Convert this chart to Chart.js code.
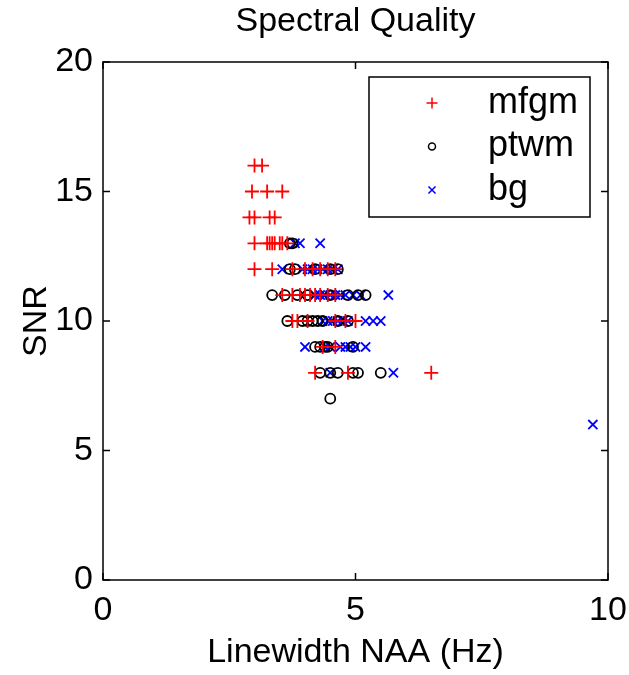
<!DOCTYPE html>
<html>
<head>
<meta charset="utf-8">
<script src="https://cdn.jsdelivr.net/npm/chart.js@4/dist/chart.umd.min.js"></script>
<style>
  html, body { margin: 0; padding: 0; background: #fff; }
  #wrap { width: 629px; height: 675px; }
</style>
</head>
<body>
<div id="wrap"><canvas id="snrChart" width="629" height="675"></canvas></div>
<script>
// tick values shown on the axes
const xTicks = [0, 5, 10];
const yTicks = [0, 5, 10, 15, 20];

// mfgm (+)
const mfgmX = [3.0, 3.15, 2.95, 3.25, 3.55, 2.9, 3.0, 3.3, 3.4,
  3.0, 3.25, 3.3, 3.35, 3.4, 3.5, 3.55, 3.65,
  3.0, 3.35, 3.75, 4.0, 4.15, 4.3, 4.45, 4.6,
  3.55, 3.75, 3.9, 4.0, 4.1, 4.2, 4.3, 4.45, 4.6,
  3.75, 3.85, 4.05, 4.6, 4.8, 5.0,
  4.35, 4.6,
  4.2, 4.85, 6.5];
const mfgmY = [16, 16, 15, 15, 15, 14, 14, 14, 14,
  13, 13, 13, 13, 13, 13, 13, 13,
  12, 12, 12, 12, 12, 12, 12, 12,
  11, 11, 11, 11, 11, 11, 11, 11, 11,
  10, 10, 10, 10, 10, 10,
  9, 9,
  8, 8, 8];

// ptwm (o)
const ptwmX = [3.7, 3.75,
  3.7, 3.8, 4.2, 4.5, 4.65,
  3.35, 3.6, 3.85, 4.05, 4.5, 4.85, 5.05, 5.2,
  3.65, 3.95, 4.05, 4.15, 4.25, 4.35, 4.65, 4.85,
  4.2, 4.3, 4.4, 4.45, 4.95,
  4.3, 4.5, 4.65, 4.95, 5.05, 5.5,
  4.5];
const ptwmY = [13, 13,
  12, 12, 12, 12, 12,
  11, 11, 11, 11, 11, 11, 11, 11,
  10, 10, 10, 10, 10, 10, 10, 10,
  9, 9, 9, 9, 9,
  8, 8, 8, 8, 8, 8,
  7];

// bg (x)
const bgX = [3.8, 3.9, 4.3,
  3.55, 3.95, 4.05, 4.15, 4.25, 4.35, 4.45, 4.55, 4.65,
  4.2, 4.3, 4.4, 4.5, 4.6, 4.7, 4.8, 4.95, 5.1, 5.65,
  4.35, 4.45, 4.55, 4.65, 4.75, 4.85, 5.2, 5.35, 5.5,
  4.0, 4.4, 4.5, 4.7, 4.8, 4.9, 5.0, 5.2,
  4.5, 5.75,
  9.7];
const bgY = [13, 13, 13,
  12, 12, 12, 12, 12, 12, 12, 12, 12,
  11, 11, 11, 11, 11, 11, 11, 11, 11, 11,
  10, 10, 10, 10, 10, 10, 10, 10, 10,
  9, 9, 9, 9, 9, 9, 9, 9,
  8, 8,
  6];

const FONT = "'Liberation Sans', Arial, Helvetica, sans-serif";
const pts = (xs, ys) => xs.map((x, i) => ({ x, y: ys[i] }));

const series = [
  { label: "mfgm", data: pts(mfgmX, mfgmY), style: "cross", color: "#ff0000", r: 7, lr: 5.5 },
  { label: "ptwm", data: pts(ptwmX, ptwmY), style: "circle", color: "#000000", r: 5, lr: 3.5 },
  { label: "bg", data: pts(bgX, bgY), style: "crossRot", color: "#0000ff", r: 6.5, lr: 5 },
];

// matlab-like box with inward ticks, title over the axes, legend inside
const boxPlugin = {
  id: "boxPlugin",
  afterDatasetsDraw(chart) {
    const { ctx, chartArea: a, scales } = chart;
    const tl = 7;
    ctx.save();
    ctx.strokeStyle = "#000";
    ctx.lineWidth = 1.5;
    ctx.strokeRect(a.left, a.top, a.right - a.left, a.bottom - a.top);
    ctx.beginPath();
    xTicks.forEach((v) => {
      const px = scales.x.getPixelForValue(v);
      ctx.moveTo(px, a.bottom); ctx.lineTo(px, a.bottom - tl);
      ctx.moveTo(px, a.top); ctx.lineTo(px, a.top + tl);
    });
    yTicks.forEach((v) => {
      const py = scales.y.getPixelForValue(v);
      ctx.moveTo(a.left, py); ctx.lineTo(a.left + tl, py);
      ctx.moveTo(a.right, py); ctx.lineTo(a.right - tl, py);
    });
    ctx.stroke();

    // title centred over the axes box
    ctx.fillStyle = "#000";
    ctx.font = "34px " + FONT;
    ctx.textAlign = "center";
    ctx.textBaseline = "middle";
    ctx.fillText("Spectral Quality", (a.left + a.right) / 2, 22);

    // legend
    const lx = 369, ly = 77, lw = 221, lh = 140;
    ctx.fillStyle = "#fff";
    ctx.fillRect(lx, ly, lw, lh);
    ctx.strokeRect(lx, ly, lw, lh);
    ctx.font = "36px " + FONT;
    ctx.textAlign = "left";
    series.forEach((s, i) => {
      const cy = ly + 26 + i * 43.5;
      ctx.strokeStyle = s.color;
      ctx.fillStyle = "rgba(0,0,0,0)";
      ctx.lineWidth = 1.5;
      Chart.helpers.drawPoint(ctx, { pointStyle: s.style, radius: s.lr, rotation: 0, borderWidth: 1.5 }, 432, cy);
      ctx.fillStyle = "#000";
      ctx.fillText(s.label, 488, cy);
    });
    ctx.restore();
  },
};

new Chart(document.getElementById("snrChart").getContext("2d"), {
  type: "scatter",
  data: {
    datasets: series.map((s) => ({
      label: s.label,
      data: s.data,
      pointStyle: s.style,
      pointRadius: s.r,
      pointBorderColor: s.color,
      pointBackgroundColor: "rgba(0,0,0,0)",
      pointBorderWidth: 1.8,
    })),
  },
  options: {
    responsive: false,
    animation: false,
    layout: { padding: { left: 0, right: 21, top: 62, bottom: 0 } },
    plugins: {
      legend: { display: false },
      tooltip: { enabled: false },
      title: { display: false },
    },
    scales: {
      x: {
        type: "linear",
        min: 0,
        max: 10,
        afterBuildTicks: (s) => { s.ticks = xTicks.map((v) => ({ value: v })); },
        afterFit: (s) => { s.height = 95; },
        grid: { display: false },
        border: { display: false },
        ticks: { color: "#000", padding: 2, maxRotation: 0, font: { family: FONT, size: 34 } },
        title: {
          display: true,
          text: "Linewidth NAA (Hz)",
          color: "#000",
          font: { family: FONT, size: 34 },
          padding: { top: 0, bottom: 2 },
        },
      },
      y: {
        type: "linear",
        min: 0,
        max: 20,
        afterBuildTicks: (s) => { s.ticks = yTicks.map((v) => ({ value: v })); },
        afterFit: (s) => { s.width = 103; },
        grid: { display: false },
        border: { display: false },
        ticks: { color: "#000", padding: 2, font: { family: FONT, size: 34 } },
        title: {
          display: true,
          text: "SNR",
          color: "#000",
          font: { family: FONT, size: 34 },
          padding: { top: 16, bottom: 0 },
        },
      },
    },
  },
  plugins: [boxPlugin],
});
</script>
</body>
</html>
